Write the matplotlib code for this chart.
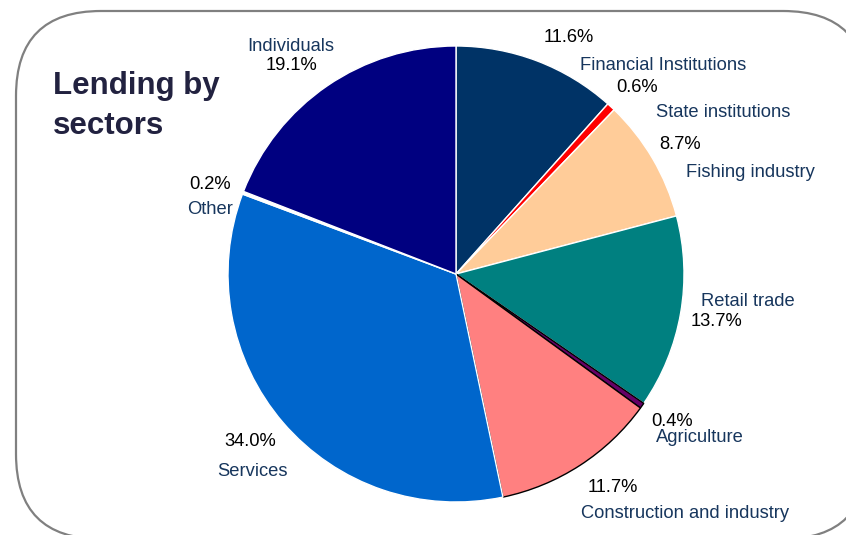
import matplotlib.pyplot as plt
from matplotlib.patches import FancyBboxPatch

plt.rcParams['font.family'] = ['Liberation Sans', 'DejaVu Sans']

# lending shares by sector, clockwise from 12 o'clock
sectors = ['Financial Institutions', 'State institutions', 'Fishing industry', 'Retail trade',
           'Agriculture', 'Construction and industry', 'Services', 'Other', 'Individuals']
shares = [11.6, 0.6, 8.7, 13.7, 0.4, 11.7, 34.0, 0.2, 19.1]
colors = ['#003366', '#FF0000', '#FFCC99', '#008080', '#660066', '#FF8080', '#0066CC', '#FFFFFF', '#000080']
edges = ['white', 'white', 'white', 'white', 'black', 'black', 'white', 'white', 'white']

# label placement in pixels: (value x, value y, name x, name y)
label_pos = {
    'Financial Institutions': (569, 38, 663, 65),
    'State institutions': (637, 87, 723, 112),
    'Fishing industry': (680, 145, 750, 172),
    'Retail trade': (717, 321, 748, 301),
    'Agriculture': (672, 421, 700, 437),
    'Construction and industry': (613, 488, 685, 513),
    'Services': (250, 442, 252, 471),
    'Other': (210, 185, 210, 209),
    'Individuals': (291, 66, 291, 47),
}

W, H = 846, 535
fig = plt.figure(figsize=(W / 100, H / 100), dpi=100)

# background panel with rounded frame
bg = fig.add_axes([0, 0, 1, 1])
bg.set_xlim(0, W)
bg.set_ylim(H, 0)
bg.axis('off')
frame = FancyBboxPatch((16, 11), 852, 528, boxstyle='round,pad=0,rounding_size=85',
                       facecolor='white', edgecolor='#808080', linewidth=1.6)
bg.add_patch(frame)

# pie centred at (456, 274) with radius 228 px
cx, cy, r = 456, 274, 228
ax = fig.add_axes([(cx - r) / W, (H - cy - r) / H, 2 * r / W, 2 * r / H])
wedges, _ = ax.pie(shares, colors=colors, startangle=90, counterclock=False,
                   wedgeprops=dict(linewidth=1.0))
for w, ec in zip(wedges, edges):
    w.set_edgecolor(ec)
ax.set_xlim(-1, 1)
ax.set_ylim(-1, 1)
ax.set_aspect('equal')

def px(x, y):
    return x / W, 1 - y / H

for name, val in zip(sectors, shares):
    vx, vy, nx, ny = label_pos[name]
    fig.text(*px(vx, vy), f'{val:.1f}%', ha='center', va='center', fontsize=13.2, color='black')
    fig.text(*px(nx, ny), name, ha='center', va='center', fontsize=13.2, color='#17365D')

fig.text(*px(53, 106), 'Lending by\nsectors', ha='left', va='center', fontsize=22.5,
         fontweight='bold', color='#222240', linespacing=1.4)

fig.savefig('out.png', dpi=100)
